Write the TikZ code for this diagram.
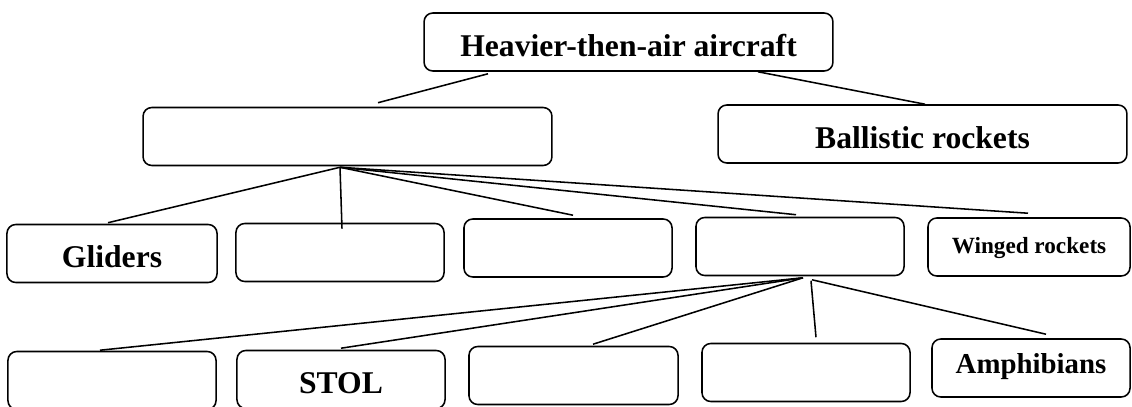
\documentclass[tikz,border=0pt]{standalone}
\usepackage{fontspec}
\setmainfont{Liberation Serif}
\usetikzlibrary{calc}

\begin{document}
\begin{tikzpicture}[x=0.025cm,y=-0.025cm]
      \tikzstyle{cell}=[draw,line width=1.1pt,rounded corners=0.22cm,inner sep=0pt,minimum height=1.45cm,minimum width=5.2cm,
        font=\bfseries\fontsize{22.5}{26}\selectfont,text height=0.75cm,text depth=0.04cm]
      \tikzstyle{small}=[font=\bfseries\fontsize{16.5}{20}\selectfont,text height=0.4cm,text depth=0.1cm]
      \tikzstyle{link}=[line width=1.1pt]
      \useasboundingbox (0,0) rectangle (1132,407);
      \node[cell,minimum width=10.22cm] (root) at (628.5,42) {Heavier-then-air aircraft};
      \node[cell,minimum width=10.22cm] (wing) at (347.5,136.5) {};
      \node[cell,minimum width=10.22cm] (ballistic) at (922.5,134) {Ballistic rockets};
      \node[cell,minimum width=5.25cm] (gliders) at (112,253.5) {Gliders};
      \node[cell] (cellb) at (340,252.5) {};
      \node[cell] (cellc) at (568,248) {};
      \node[cell] (celld) at (800,246.5) {};
      \node[cell,small,minimum width=5.05cm] (winged) at (1029,247) {Winged rockets};
      \node[cell] (lowa) at (112,380.5) {};
      \node[cell] (stol) at (341,379.5) {STOL};
      \node[cell,minimum width=5.225cm] (lowc) at (573.5,375.5) {};
      \node[cell] (lowd) at (806,372.5) {};
      \node[cell,minimum width=4.95cm,font=\bfseries\fontsize{20.5}{24}\selectfont,text height=0.4cm,text depth=0.15cm] (amphib) at (1031,368) {Amphibians};
      \draw[link] ($(root.south)+(-140.5,2)$) -- ($(wing.north)+(30.5,-4)$);
      \draw[link] ($(root.south)+(129.5,0)$) -- ($(ballistic.north)+(2.5,0)$);
      \coordinate (fan) at ($(wing.south)+(-7.5,1)$);
      \draw[link] (fan) -- ($(gliders.north)+(-4,-1)$);
      \draw[link] (fan) -- ($(cellb.north)+(2,6)$);
      \draw[link] (fan) -- ($(cellc.north)+(5,-3)$);
      \draw[link] (fan) -- ($(celld.north)+(-4,-2)$);
      \draw[link] (fan) -- ($(winged.north)+(-1,-4)$);
      \coordinate (fork) at ($(celld.south)+(3,1.5)$);
      \draw[link] (fork) -- ($(lowa.north)+(-12,-0.5)$);
      \draw[link] (fork) -- ($(stol.north)+(0,-1.5)$);
      \draw[link] (fork) -- ($(lowc.north)+(19.5,-1.5)$);
      \draw[link] ($(celld.south)+(11,4.5)$) -- ($(lowd.north)+(10,-5.5)$);
      \draw[link] ($(celld.south)+(12,3.5)$) -- ($(amphib.north)+(15,-4)$);
\end{tikzpicture}
\end{document}
